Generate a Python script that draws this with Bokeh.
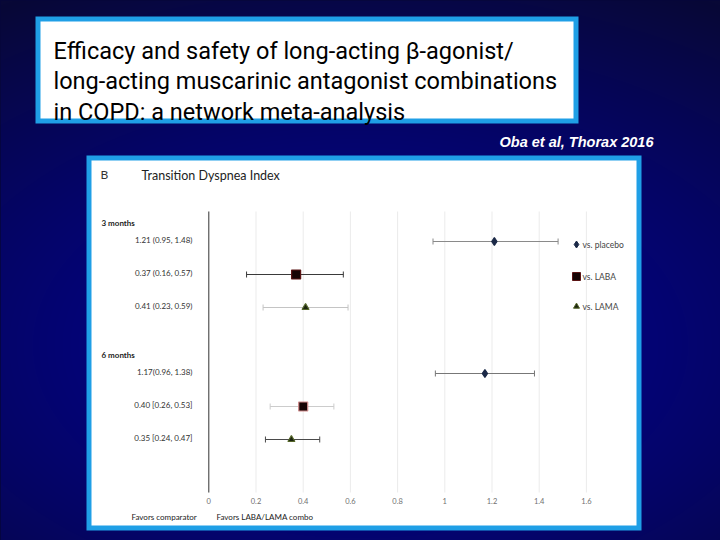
import numpy as np
from jinja2 import Template
from bokeh.plotting import figure
from bokeh.models import Range1d, ColumnDataSource
from bokeh.core.properties import value
from bokeh.embed import file_html
from bokeh.resources import INLINE

# ---------------- data ----------------
title_lines = ["Efficacy and safety of long-acting \u03b2-agonist/",
               "long-acting muscarinic antagonist combinations",
               "in COPD: a network meta-analysis"]
citation = "Oba et al, Thorax 2016"
panel_letter = "B"
chart_title = "Transition Dyspnea Index"
periods = ["3 months", "6 months"]
comparators = ["vs. placebo", "vs. LABA", "vs. LAMA"]
row_period = ["3 months", "3 months", "3 months", "6 months", "6 months", "6 months"]
row_comparator = ["vs. placebo", "vs. LABA", "vs. LAMA", "vs. placebo", "vs. LABA", "vs. LAMA"]
estimate = [1.21, 0.37, 0.41, 1.17, 0.40, 0.35]
ci_low = [0.95, 0.16, 0.23, 0.96, 0.26, 0.24]
ci_high = [1.48, 0.57, 0.59, 1.38, 0.53, 0.47]
row_labels = ["1.21 (0.95, 1.48)", "0.37 (0.16, 0.57)", "0.41 (0.23, 0.59)",
              "1.17(0.96, 1.38)", "0.40 [0.26, 0.53]", "0.35 [0.24, 0.47]"]
x_ticks = [0, 0.2, 0.4, 0.6, 0.8, 1.0, 1.2, 1.4, 1.6]
x_tick_labels = ["0", "0.2", "0.4", "0.6", "0.8", "1", "1.2", "1.4", "1.6"]
favors_labels = ["Favors comparator", "Favors LABA/LAMA combo"]

# ---------------- styles ----------------
marker_style = {
    "vs. placebo": dict(marker="diamond", size=8, fill="#1b2947", line="#1b2947"),
    "vs. LABA": dict(marker="square", size=9, fill="#160404", line="#5a1414"),
    "vs. LAMA": dict(marker="triangle", size=7, fill="#1c2410", line="#55662a"),
}
whisker_color = ["#8a8a8a", "#3a3a3a", "#c4c4c4", "#777777", "#cccccc", "#4a4a4a"]
marker_line_override = [None, None, None, None, "#d08a8a", None]
BORDER_BLUE = "#1f9fe6"
CHART_FONT = "Lato"

# row slot (category order): period block of 4 slots, one per comparator
slot = [periods.index(pr) * 4 + comparators.index(c) + 1 for pr, c in zip(row_period, row_comparator)]

# ---------------- figure ----------------
W, H = 720, 540
# value axis: 0 -> page x 208.3, 236 px per unit
px_per_unit = 236.0
x0_page = 208.3
x_start = (0 - x0_page) / px_per_unit
x_end = (W - x0_page) / px_per_unit
# slot axis: slot 1 -> page y 241, 33 px per slot
slot_px = 33.0
s_top = 1 - 241 / slot_px
s_bot = 1 + (H - 241) / slot_px

p = figure(width=W, height=H, x_range=Range1d(x_start, x_end), y_range=Range1d(s_bot, s_top),
           x_axis_location=None, y_axis_location=None, toolbar_location=None,
           min_border=0, output_backend="svg", outline_line_color=None,
           background_fill_color="#07073a", border_fill_color="#07073a")
p.grid.visible = False
p.extra_x_ranges = {"px": Range1d(0, W)}
p.extra_y_ranges = {"px": Range1d(H, 0), "bg": Range1d(0, H)}

# background radial gradient (decoration)
yy, xx = np.mgrid[0:H, 0:W]
ox = xx + 0.5
oy = yy + 0.5
d = np.sqrt(((ox - 360) / 680.0) ** 2 + ((oy - 345) / 400.0) ** 2)
t = np.clip(d, 0, 1) ** 1.5
c_center = np.array([2, 2, 140], dtype=float)
c_edge = np.array([8, 8, 54], dtype=float)
rgb = c_center[None, None, :] * (1 - t[..., None]) + c_edge[None, None, :] * t[..., None]
img = np.zeros((H, W), dtype=np.uint32)
view = img.view(dtype=np.uint8).reshape((H, W, 4))
view[..., 0] = rgb[..., 0].astype(np.uint8)
view[..., 1] = rgb[..., 1].astype(np.uint8)
view[..., 2] = rgb[..., 2].astype(np.uint8)
view[..., 3] = 255
img = np.ascontiguousarray(img[::-1])
p.image_rgba(image=[img], x=0, y=0, dw=W, dh=H, x_range_name="px", y_range_name="bg")

# title box and chart box
p.quad(left=[35, 86], right=[578, 641], top=[16, 155], bottom=[123, 530],
       fill_color=BORDER_BLUE, line_color=None, x_range_name="px", y_range_name="px")
p.quad(left=[40, 91], right=[573, 636], top=[21, 160], bottom=[118, 525],
       fill_color="white", line_color=None, x_range_name="px", y_range_name="px")

p.text(x=[53] * 3, y=[50, 80.5, 111], text=title_lines, text_font=value("Roboto"),
       text_font_size="23.5px", text_color="black", text_baseline="alphabetic",
       x_range_name="px", y_range_name="px")
p.text(x=[653], y=[141], text=[citation], text_font=value("Liberation Sans"),
       text_font_size="14.5px", text_font_style="bold italic", text_color="white",
       text_align="right", text_baseline="middle", x_range_name="px", y_range_name="px")

# chart header
p.text(x=[100], y=[174], text=[panel_letter], text_font=value(CHART_FONT), text_font_size="12px",
       text_color="#333333", text_baseline="middle", x_range_name="px", y_range_name="px")
p.text(x=[141], y=[175], text=[chart_title], text_font=value(CHART_FONT), text_font_size="12.5px",
       text_color="#222222", text_baseline="middle", x_range_name="px", y_range_name="px")

# grid lines and zero line
p.segment(x0=x_ticks, x1=x_ticks, y0=[211] * len(x_ticks), y1=[492] * len(x_ticks),
          line_color="#ebebeb", line_width=1, y_range_name="px")
p.segment(x0=[x_ticks[0]], x1=[x_ticks[0]], y0=[211], y1=[492],
          line_color="#3a3a3a", line_width=1, y_range_name="px")
p.text(x=x_ticks, y=[500] * len(x_ticks), text=x_tick_labels, text_font=value(CHART_FONT),
       text_font_size="7.5px", text_color="#707070", text_align="center", text_baseline="middle",
       y_range_name="px")

# whiskers
src = ColumnDataSource(dict(
    est=estimate, lo=ci_low, hi=ci_high, slot=slot, wcol=whisker_color,
    marker=[marker_style[c]["marker"] for c in row_comparator],
    size=[marker_style[c]["size"] for c in row_comparator],
    fill=[marker_style[c]["fill"] for c in row_comparator],
    line=[marker_line_override[i] or marker_style[c]["line"] for i, c in enumerate(row_comparator)],
))
p.segment(x0="lo", x1="hi", y0="slot", y1="slot", line_color="wcol", line_width=1.2, source=src)
p.scatter(x="lo", y="slot", marker="dash", angle=np.pi / 2, size=6, line_color="wcol",
          line_width=1, source=src)
p.scatter(x="hi", y="slot", marker="dash", angle=np.pi / 2, size=6, line_color="wcol",
          line_width=1, source=src)
p.scatter(x="est", y="slot", marker="marker", size="size", fill_color="fill", line_color="line",
          line_width=1.2, source=src)

# row labels
p.text(x=[192] * len(row_labels), y=slot, text=row_labels, y_offset=-2, text_font=value(CHART_FONT),
       text_font_size="8px", text_color="#333333", text_align="right", text_baseline="middle",
       x_range_name="px")
first_slot = [slot[row_period.index(pr)] for pr in periods]
p.text(x=[101] * len(periods), y=first_slot, text=periods, y_offset=-19, text_font=value(CHART_FONT),
       text_font_size="8px", text_font_style="bold", text_color="#222222", text_baseline="middle",
       x_range_name="px")

# legend
p.scatter(x=[576] * 3, y=[244, 276, 306], marker=[marker_style[c]["marker"] for c in comparators],
          size=[marker_style[c]["size"] - 1 for c in comparators],
          fill_color=[marker_style[c]["fill"] for c in comparators],
          line_color=[marker_style[c]["line"] for c in comparators],
          x_range_name="px", y_range_name="px")
p.text(x=[582] * 3, y=[244, 276, 306], text=comparators, text_font=value(CHART_FONT),
       text_font_size="8.5px", text_color="#444444", text_baseline="middle",
       x_range_name="px", y_range_name="px")

# favors labels
p.text(x=[131, 216], y=[516, 516], text=favors_labels, text_font=value(CHART_FONT),
       text_font_size="8px", text_color="#222222", text_baseline="middle",
       x_range_name="px", y_range_name="px")

template = Template("""{% extends base %}
{% block preamble %}<style>html, body { background: #07073a; }</style>{% endblock %}""")
open("out.html", "w").write(file_html(p, INLINE, template=template))
